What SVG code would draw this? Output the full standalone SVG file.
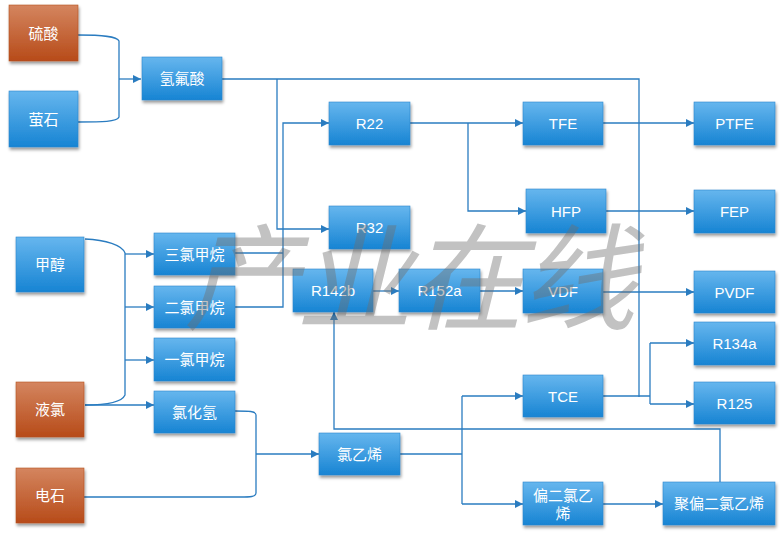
<svg xmlns="http://www.w3.org/2000/svg" width="784" height="541" viewBox="0 0 784 541">
<defs>
<linearGradient id="gb" x1="0" y1="0" x2="0" y2="1"><stop offset="0" stop-color="#66B6EE"/><stop offset="1" stop-color="#1784D3"/></linearGradient>
<linearGradient id="go" x1="0" y1="0" x2="0" y2="1"><stop offset="0" stop-color="#D4855F"/><stop offset="1" stop-color="#B74B19"/></linearGradient>
<filter id="sh" x="-10%" y="-10%" width="130%" height="140%"><feDropShadow dx="1" dy="2.5" stdDeviation="1.8" flood-color="#000" flood-opacity="0.4"/></filter>
<marker id="ar" viewBox="0 0 10 10" refX="10" refY="5" markerWidth="9" markerHeight="8" markerUnits="userSpaceOnUse" orient="auto"><path d="M0,0 L10,5 L0,10 z" fill="#2A7CC0"/></marker>
</defs>
<style>
.b{fill:url(#gb);stroke:#2B86CC;stroke-width:0.6;filter:url(#sh)}
.o{fill:url(#go);stroke:#B5531F;stroke-width:0.6;filter:url(#sh)}
.t{fill:#fff;font-family:"Liberation Sans","Noto Sans CJK SC",sans-serif;font-size:15px;text-anchor:middle;dominant-baseline:central}
.c path{fill:none;stroke:#2A7CC0;stroke-width:1.3}
.wm{font-family:"Noto Sans CJK SC",sans-serif;font-size:116px;letter-spacing:-4px;fill:#6f6f6f;opacity:0.42}
</style>
<rect width="784" height="541" fill="#fff"/>
<g class="c">
<path d="M78,35 C102,35 117,36 119,41 V117 C117,122 102,122 78,122"/>
<path d="M119,79 H141" marker-end="url(#ar)"/>
<path d="M222,79 H639 V397"/>
<path d="M277,79 V229 H329" marker-end="url(#ar)"/>
<path d="M235,253 H283"/>
<path d="M235,307 H283 V123 H329" marker-end="url(#ar)"/>
<path d="M410,123 H523" marker-end="url(#ar)"/>
<path d="M468,123 V211 H526" marker-end="url(#ar)"/>
<path d="M603,123 H694" marker-end="url(#ar)"/>
<path d="M606,211 H694" marker-end="url(#ar)"/>
<path d="M85,239 C106,240 122,245 125,253 V395 C122,402 106,405 85,405"/>
<path d="M125,254 H154" marker-end="url(#ar)"/>
<path d="M125,307 H154" marker-end="url(#ar)"/>
<path d="M125,360 H154" marker-end="url(#ar)"/>
<path d="M85,405 H154" marker-end="url(#ar)"/>
<path d="M373,291 H399" marker-end="url(#ar)"/>
<path d="M480,291 H523" marker-end="url(#ar)"/>
<path d="M603,292 H694" marker-end="url(#ar)"/>
<path d="M603,396 H650"/>
<path d="M650,343 V404"/>
<path d="M650,343 H694" marker-end="url(#ar)"/>
<path d="M650,404 H694" marker-end="url(#ar)"/>
<path d="M235,411 C249,411 256,411 256,415 V493 C256,497 250,497 240,497 H84"/>
<path d="M256,454 H319" marker-end="url(#ar)"/>
<path d="M400,454 H462"/>
<path d="M462,396 V504"/>
<path d="M462,396 H523" marker-end="url(#ar)"/>
<path d="M462,504 H523" marker-end="url(#ar)"/>
<path d="M603,504 H663" marker-end="url(#ar)"/>
<path d="M720,482 V429 H334 V312" marker-end="url(#ar)"/>
</g>
<g id="n-liusuan"><rect class="o" x="9" y="5" width="69" height="56"/><text class="t" x="43.5" y="33">硫酸</text></g>
<g id="n-yingshi"><rect class="b" x="9" y="91" width="69" height="56"/><text class="t" x="43.5" y="119">萤石</text></g>
<g id="n-qingfusuan"><rect class="b" x="142" y="57" width="80" height="43"/><text class="t" x="182" y="78.5">氢氟酸</text></g>
<g id="n-r22"><rect class="b" x="329" y="102" width="81" height="43"/><text class="t" x="369.5" y="123.5">R22</text></g>
<g id="n-tfe"><rect class="b" x="523" y="102" width="80" height="43"/><text class="t" x="563" y="123.5">TFE</text></g>
<g id="n-ptfe"><rect class="b" x="694" y="102" width="81" height="43"/><text class="t" x="734.5" y="123.5">PTFE</text></g>
<g id="n-hfp"><rect class="b" x="526" y="189" width="80" height="44"/><text class="t" x="566" y="211">HFP</text></g>
<g id="n-fep"><rect class="b" x="694" y="190" width="81" height="43"/><text class="t" x="734.5" y="211.5">FEP</text></g>
<g id="n-r32"><rect class="b" x="329" y="206" width="81" height="43"/><text class="t" x="369.5" y="227.5">R32</text></g>
<g id="n-jiachun"><rect class="b" x="16" y="237" width="68" height="55"/><text class="t" x="50" y="264.5">甲醇</text></g>
<g id="n-sanlvjiawan"><rect class="b" x="154" y="233" width="81" height="42"/><text class="t" x="194.5" y="254">三氯甲烷</text></g>
<g id="n-erlvjiawan"><rect class="b" x="154" y="286" width="81" height="42"/><text class="t" x="194.5" y="307">二氯甲烷</text></g>
<g id="n-yilvjiawan"><rect class="b" x="154" y="338" width="81" height="43"/><text class="t" x="194.5" y="359.5">一氯甲烷</text></g>
<g id="n-r142b"><rect class="b" x="293" y="269" width="80" height="43"/><text class="t" x="333" y="290.5">R142b</text></g>
<g id="n-r152a"><rect class="b" x="399" y="269" width="81" height="43"/><text class="t" x="439.5" y="290.5">R152a</text></g>
<g id="n-vdf"><rect class="b" x="523" y="269" width="80" height="44"/><text class="t" x="563" y="291">VDF</text></g>
<g id="n-pvdf"><rect class="b" x="694" y="271" width="81" height="42"/><text class="t" x="734.5" y="292">PVDF</text></g>
<g id="n-r134a"><rect class="b" x="694" y="322" width="81" height="43"/><text class="t" x="734.5" y="343.5">R134a</text></g>
<g id="n-tce"><rect class="b" x="523" y="375" width="80" height="42"/><text class="t" x="563" y="396">TCE</text></g>
<g id="n-r125"><rect class="b" x="694" y="382" width="81" height="42"/><text class="t" x="734.5" y="403">R125</text></g>
<g id="n-yelv"><rect class="o" x="16" y="382" width="68" height="55"/><text class="t" x="50" y="409.5">液氯</text></g>
<g id="n-lvhuaqing"><rect class="b" x="154" y="391" width="81" height="42"/><text class="t" x="194.5" y="412">氯化氢</text></g>
<g id="n-lvyixi"><rect class="b" x="319" y="433" width="81" height="42"/><text class="t" x="359.5" y="454">氯乙烯</text></g>
<g id="n-dianshi"><rect class="o" x="16" y="468" width="68" height="55"/><text class="t" x="50" y="495.5">电石</text></g>
<g id="n-pianerlvyixi"><rect class="b" x="523" y="482" width="80" height="43"/><text class="t" x="563" y="495">偏二氯乙</text><text class="t" x="563" y="513">烯</text></g>
<g id="n-jupianerlvyixi"><rect class="b" x="663" y="482" width="112" height="43"/><text class="t" x="719" y="503.5">聚偏二氯乙烯</text></g>
<text class="wm" x="264" y="321" transform="skewX(-14)" text-anchor="start">产业在线</text>
</svg>
